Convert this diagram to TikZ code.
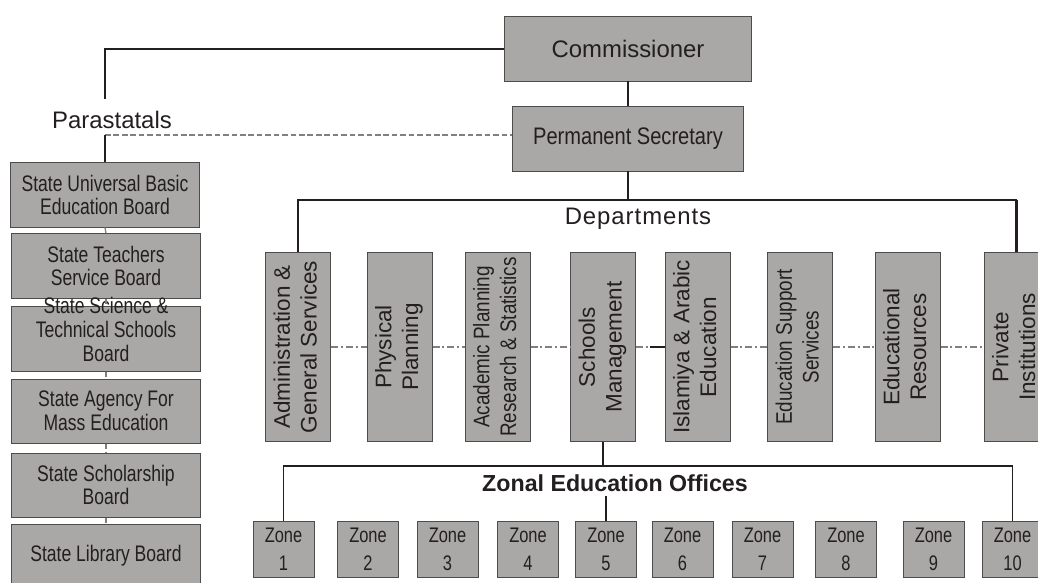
\documentclass[tikz,border=0pt]{standalone}
\usepackage{fontspec}
\usepackage{graphicx}
\setmainfont{Liberation Sans}
\newfontfamily\narrowfont[FakeStretch=0.78]{Liberation Sans}
\newfontfamily\deptfont[FakeStretch=0.84]{Liberation Sans}
\newfontfamily\widefont[LetterSpace=4]{Liberation Sans}
\usetikzlibrary{positioning}

\definecolor{boxgray}{RGB}{169,168,166}
\definecolor{inkblack}{RGB}{35,31,32}
\definecolor{linkgray}{RGB}{128,128,128}

% text standing upright in the department boxes
\newcommand{\uptext}[1]{\rotatebox{90}{\begin{tabular}{@{}c@{}}#1\end{tabular}}}

\begin{document}
\begin{tikzpicture}
	[   x=0.025cm,y=-0.025cm,
		office/.style={draw=black!70,line width=0.7pt,fill=boxgray,text=inkblack,inner sep=0pt,align=center},
		head/.style={office,minimum height=1.6cm,font=\fontsize{17}{20}\selectfont},
		para/.style={office,minimum width=4.7cm,minimum height=1.6cm,font=\narrowfont\fontsize{16}{17}\selectfont},
		dept/.style={office,minimum width=1.625cm,minimum height=4.7cm},
		zonebox/.style={office,minimum width=1.525cm,minimum height=1.4cm,font=\narrowfont\fontsize{15}{20}\selectfont},
		caption/.style={text=inkblack,font=\fontsize{17}{20}\selectfont},
	]
	\tikzset{solid link/.style={draw=inkblack,line width=1.2pt},
		thick link/.style={draw=inkblack,line width=2pt},
		soft link/.style={draw=linkgray,line width=0.9pt,dash pattern=on 4pt off 2pt},
		dept link/.style={draw=linkgray,line width=0.9pt,dash pattern=on 5pt off 2pt on 1.5pt off 2pt}}
	\useasboundingbox (0,0) rectangle (1038,583);
	\clip (0,0) rectangle (1038,583);
	
	\node[head,minimum width=6.15cm] (comm) at (628,49) {Commissioner};
	\node[head,minimum width=5.75cm,font=\deptfont\fontsize{17}{20}\selectfont] (ps) at (628,139) {Permanent Secretary};
	\draw[solid link] (comm) -- (ps);
	
	% parastatals
	\node[caption] (para-label) at (112,120) {Parastatals};
	\coordinate (para-top) at (105,99);
	\coordinate (para-bot) at (105,135);
	\draw[thick link] (comm.west) -| (para-top);
	\draw[soft link] (para-bot) -- (para-bot -| ps.west);
	
	\node[para] (sub-1) at (105,195) {State Universal Basic\\Education Board};
	\node[para] (sub-2) at (106,266) {State Teachers\\Service Board};
	\node[para] (sub-3) at (106,339) {\smash{\begin{tabular}{@{}c@{}}State Science \&\\Technical Schools\\Board\end{tabular}}};
	\node[para] (sub-4) at (106,411) {State Agency For\\Mass Education};
	\node[para] (sub-5) at (106,485) {State Scholarship\\Board};
	\node[para] (sub-6) at (106,556) {State Library Board};
	\draw[thick link] (para-bot) -- (sub-1.north);
	\foreach \i in {1,...,5}
	{
		\pgfmathtruncatemacro{\j}{\i+1}
		\draw[soft link] (sub-\i.south) -- (sub-\j.north);
	}
	
	% departments (\face picks the narrow cut for the long names)
	\foreach \x/\face/\txt [count=\i] in {298/\rmfamily/{Administration \&\\General Services},
		399.5/\rmfamily/{Physical\\Planning},
		497.5/\deptfont/{Academic Planning\\Research \& Statistics},
		603/\rmfamily/{Schools\\Management},
		697.5/\rmfamily/{Islamiya \& Arabic\\Education},
		800/\deptfont/{Education Support\\Services},
		907.5/\rmfamily/{Educational\\Resources},
		1016.5/\rmfamily/{Private\\Institutions}}
	{
		\node[dept,font=\face\fontsize{16}{19}\selectfont] (dep-\i) at (\x,347) {\uptext{\txt}};
	}
	\foreach \i in {1,...,7}
	{
		\pgfmathtruncatemacro{\j}{\i+1}
		\draw[dept link] (dep-\i.east) -- (dep-\j.west);
	}
	\draw[solid link,line width=1pt] ([xshift=-10pt]dep-5.west) -- (dep-5.west);
	
	\coordinate (dept-bar) at (0,200);
	\node[caption,font=\widefont\fontsize{17}{20}\selectfont] (dept-label) at (638,219) {Departments};
	\draw[solid link] (ps.south) -- (ps.south |- dept-bar);
	\draw[solid link] (dep-1.north) |- (dep-8.north |- dept-bar);
	\draw[thick link] (dep-8.north |- dept-bar) -- (dep-8.north);
	
	% zonal offices
	\foreach \x [count=\i] in {283.5,368,447.5,528,606,682.5,762.5,846,933.5,1012.5}
	{
		\node[zonebox] (zone-\i) at (\x,549) {Zone\\\i};
	}
	\coordinate (zone-bar) at (0,466);
	\coordinate (zone-stub) at (606,496);
	\node[caption,font=\bfseries\fontsize{16.5}{20}\selectfont] (zone-label) at (615,483) {Zonal Education Offices};
	\draw[solid link] (dep-4.south) -- (dep-4.south |- zone-bar);
	\draw[solid link] (zone-1.north) |- (zone-10.north |- zone-bar);
	\draw[solid link,line width=1pt] (zone-10.north |- zone-bar) -- (zone-10.north);
	\draw[solid link] (zone-stub) -- (zone-5.north);

\end{tikzpicture}
\end{document}
